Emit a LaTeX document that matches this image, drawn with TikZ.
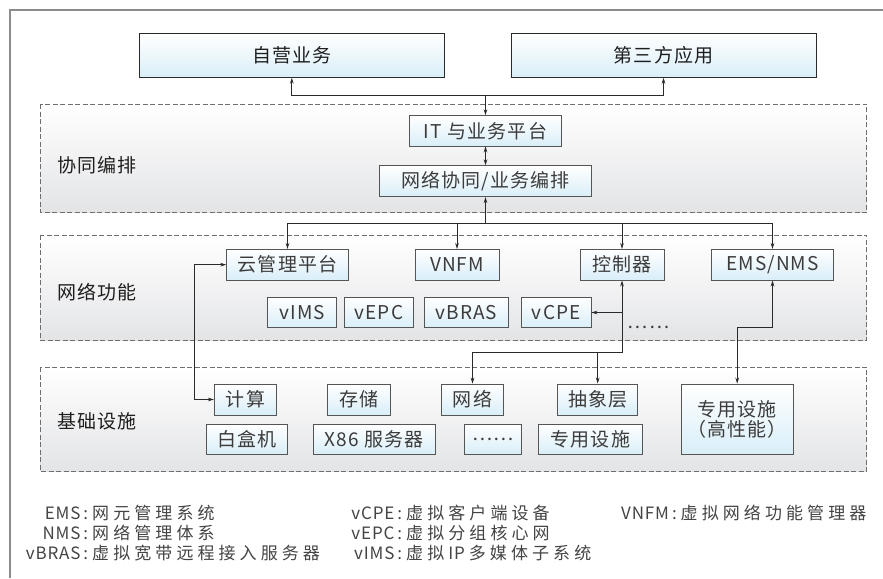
\documentclass[tikz,border=0pt]{standalone}
\usepackage{fontspec}
\setmainfont{Noto Sans CJK SC}[LetterSpace=6]
\newfontfamily\legcjk{Noto Sans CJK SC}[LetterSpace=24]
\newfontfamily\leglat{Noto Sans CJK SC}[LetterSpace=5]
\usetikzlibrary{arrows.meta}
\definecolor{txt}{HTML}{3C3C3C}
\definecolor{legtxt}{HTML}{444444}
\definecolor{txtdark}{HTML}{1E1E1E}
\definecolor{boxline}{HTML}{555555}
\definecolor{topline}{HTML}{2A2A2A}
\definecolor{boxblue}{HTML}{D9EEF8}
\definecolor{regfill}{HTML}{E3E4E6}
\definecolor{regline}{HTML}{6E6E6E}
\definecolor{framegray}{HTML}{8C8C8C}
\definecolor{conn}{HTML}{2A2A2A}
\newcommand\boxfs{\fontsize{19}{20}\selectfont}
\newcommand\lat[1]{{\leglat\fontsize{17}{20}\selectfont #1}}
\newcommand\han[1]{{\legcjk\fontsize{17}{20}\selectfont #1}}
\newcommand\colsep{\hspace{3pt}:\hspace{4pt}}
\begin{document}
\begin{tikzpicture}[x=1pt,y=-1pt,
  box/.style={draw=boxline, line width=0.8pt, top color=white, bottom color=boxblue,
    inner sep=0pt, font=\boxfs, text=txt},
  topbox/.style={box, draw=topline, text=txtdark, minimum width=305pt, minimum height=44pt},
  region/.style={draw=regline, line width=0.8pt, dash pattern=on 5pt off 2.5pt,
    top color=white, bottom color=regfill},
  lbl/.style={font=\boxfs, text=txtdark, inner sep=0pt, anchor=west},
  legend/.style={text=legtxt, inner sep=0pt, anchor=base west},
  arr/.style={draw=conn, line width=0.8pt, -{Stealth[length=6pt,width=3.6pt]}},
  arrtwo/.style={draw=conn, line width=0.8pt, {Stealth[length=6pt,width=3.6pt]}-{Stealth[length=6pt,width=3.6pt]}}
]
\useasboundingbox (0,0) rectangle (883,578);
\fill[white] (0,0) rectangle (883,578);
\draw[framegray, line width=1.6pt] (10,578) -- (10,10) -- (883,10);

% regions
\path[region] (40.7,104) rectangle (866.7,212.7);
\path[region] (40.7,235) rectangle (866.7,340.7);
\path[region] (40.7,367) rectangle (866.7,471.7);
\node[lbl] (l1) at (57,165) {协同编排};
\node[lbl] (l2) at (57,291.7) {网络功能};
\node[lbl] (l3) at (57,421.7) {基础设施};

% top boxes
\node[topbox] (top1) at (291.8,55.3) {自营业务};
\node[topbox] (top2) at (663.5,55.3) {第三方应用};

% orchestration
\node[box, minimum width=152pt, minimum height=30.3pt] (it) at (485.5,130.8) {IT 与业务平台};
\node[box, minimum width=212.7pt, minimum height=31pt] (orch) at (485.5,181.2) {网络协同/业务编排};

% network functions
\node[box, minimum width=121.6pt, minimum height=30.7pt] (cloud) at (287.5,264.7) {云管理平台};
\node[box, minimum width=84pt, minimum height=30.7pt] (vnfm) at (457,264.7) {VNFM};
\node[box, minimum width=84pt, minimum height=30.7pt] (ctrl) at (622,264.7) {控制器};
\node[box, minimum width=121.6pt, minimum height=30.7pt] (ems) at (772.5,264.7) {EMS/NMS};
\node[box, minimum width=69pt, minimum height=30.4pt] (vims) at (302.2,312.5) {vIMS};
\node[box, minimum width=69pt, minimum height=30.4pt] (vepc) at (378.8,312.5) {vEPC};
\node[box, minimum width=84pt, minimum height=30.4pt] (vbras) at (466.3,312.5) {vBRAS};
\node[box, minimum width=69.3pt, minimum height=30.4pt] (vcpe) at (556.3,312.5) {vCPE};
\node[font=\boxfs, text=txt, inner sep=0pt] (nfdots) at (648.5,327) {……};

% infrastructure
\node[box, minimum width=62.4pt, minimum height=31pt] (calc) at (245.5,399.5) {计算};
\node[box, minimum width=62.3pt, minimum height=31pt] (store) at (358.8,399.5) {存储};
\node[box, minimum width=61.6pt, minimum height=31pt] (net) at (472.5,399.5) {网络};
\node[box, minimum width=80pt, minimum height=31pt] (abs) at (597.7,399.5) {抽象层};
\node[box, minimum width=80.6pt, minimum height=30.3pt] (wbox) at (247,439.2) {白盒机};
\node[box, minimum width=121.7pt, minimum height=30.3pt] (x86) at (374.2,439.2) {X86 服务器};
\node[box, minimum width=57.4pt, minimum height=30.3pt] (idots) at (493,439.2) {……};
\node[box, minimum width=104pt, minimum height=30.3pt] (ded) at (590.3,439.2) {专用设施};
\node[box, minimum width=112.3pt, minimum height=70.3pt, align=center] (hp) at (737.2,419.2) {专用设施\\（高性能）};

% connectors top
\coordinate (b0) at (it.north |- 0,95);
\draw[arr] (b0) -- (it.north);
\draw[arr] (b0) -| (top1.south);
\draw[arr] (b0) -| (top2.south);
\draw[arrtwo] (it.south) -- (orch.north);

% bus to network functions
\coordinate (b1) at (orch.south |- 0,223);
\draw[arr] (b1) -- (orch.south);
\draw[arr] (b1) -| (cloud.north);
\draw[arr] (b1) -| (vnfm.north);
\draw[arr] (b1) -| (ctrl.north);
\draw[arr] (b1) -| (ems.north);

% cloud <-> compute
\coordinate (lx) at (194.3,330);
\draw[arrtwo] (cloud.west) -- (cloud.west -| lx) -- (calc.west -| lx) -- (calc.west);

% controller
\coordinate (cb) at (ctrl.south |- 0,352.7);
\draw[arr] (cb) -- (ctrl.south);
\draw[arr] (cb) -| (net.north);
\draw[arr] (abs.north |- cb) -- (abs.north);
\draw[arr] (ctrl.south |- vcpe.east) -- (vcpe.east);

% EMS <-> dedicated
\coordinate (eb) at (ems.south |- 0,327.3);
\draw[arrtwo] (ems.south) -- (eb) -| (hp.north);

% legend
\node[legend] (g1) at (21,519) {\makebox[71pt][r]{\lat{EMS\colsep}}\han{网元管理系统}};
\node[legend] (g2) at (21,539) {\makebox[71pt][r]{\lat{NMS\colsep}}\han{网络管理体系}};
\node[legend] (g3) at (21,559) {\makebox[71pt][r]{\lat{vBRAS\colsep}}\han{虚拟宽带远程接入服务器}};
\node[legend] (g4) at (346,519) {\makebox[60pt][r]{\lat{vCPE\colsep}}\han{虚拟客户端设备}};
\node[legend] (g5) at (346,539) {\makebox[60pt][r]{\lat{vEPC\colsep}}\han{虚拟分组核心网}};
\node[legend] (g6) at (346,559) {\makebox[60pt][r]{\lat{vIMS\colsep}}\han{虚拟}\lat{\hspace{4pt}IP\hspace{4pt}}\han{多媒体子系统}};
\node[legend] (g7) at (621,519) {\lat{VNFM\colsep}\han{虚拟网络功能管理器}};
\end{tikzpicture}
\end{document}
